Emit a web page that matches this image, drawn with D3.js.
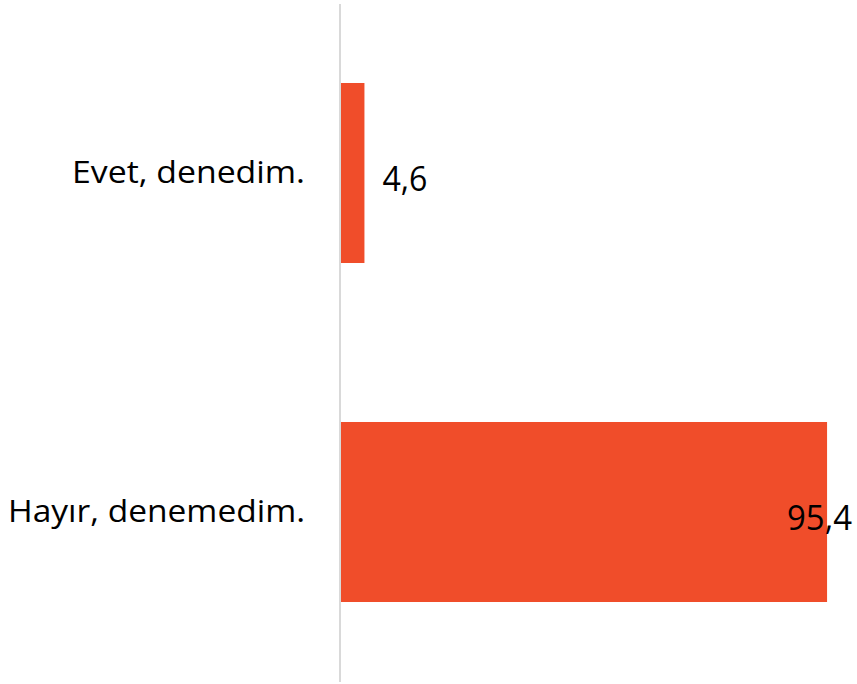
<!DOCTYPE html>
<html lang="tr">
<head>
<meta charset="UTF-8">
<title>Evet / Hayır</title>
<script src="https://d3js.org/d3.v7.min.js"></script>
<style>
  body { margin: 0; background: #fff; }
  text { font-family: "Open Sans", sans-serif; fill: #000; }
</style>
</head>
<body>
<div id="chart"></div>
<script>
const categories = ["Evet, denedim.", "Hayır, denemedim."];
const values = [4.6, 95.4];
const valueLabels = ["4,6", "95,4"];

const W = 857, H = 684;
const svg = d3.select("#chart").append("svg")
  .attr("width", W).attr("height", H);

const x = d3.scaleLinear().domain([0, 100]).range([341, 850.5]);
const y = d3.scaleBand().domain(categories).range([3.5, 681.5])
  .paddingInner(0.469).paddingOuter(0.2345);

const data = categories.map((c, i) => ({cat: c, value: values[i], label: valueLabels[i]}));

svg.selectAll("rect.bar")
  .data(data)
  .enter().append("rect")
  .attr("class", "bar")
  .attr("x", x(0))
  .attr("y", d => y(d.cat))
  .attr("width", d => x(d.value) - x(0))
  .attr("height", y.bandwidth())
  .attr("fill", "#f04d2a");

// axis line
svg.append("line")
  .attr("x1", x(0) - 1).attr("x2", x(0) - 1)
  .attr("y1", 4).attr("y2", 682)
  .attr("stroke", "#d9d9d9").attr("stroke-width", 2);

// category labels
const catWidths = {"Evet, denedim.": 233, "Hayır, denemedim.": 297};
svg.selectAll("text.cat")
  .data(data)
  .enter().append("text")
  .attr("class", "cat")
  .attr("x", 305)
  .attr("y", d => y(d.cat) + y.bandwidth() / 2 + 10)
  .attr("text-anchor", "end")
  .style("font-size", "31px")
  .attr("textLength", d => catWidths[d.cat])
  .attr("lengthAdjust", "spacingAndGlyphs")
  .text(d => d.cat);

// value labels
const valWidths = {"4,6": 45, "95,4": 65};
const rightEdge = 852;
svg.selectAll("text.val")
  .data(data)
  .enter().append("text")
  .attr("class", "val")
  .attr("x", d => Math.min(x(d.value) + 18, rightEdge - valWidths[d.label]))
  .attr("y", d => y(d.cat) + y.bandwidth() / 2 + 18)
  .style("font-size", "35px")
  .attr("textLength", d => valWidths[d.label])
  .attr("lengthAdjust", "spacingAndGlyphs")
  .text(d => d.label);
</script>
</body>
</html>
